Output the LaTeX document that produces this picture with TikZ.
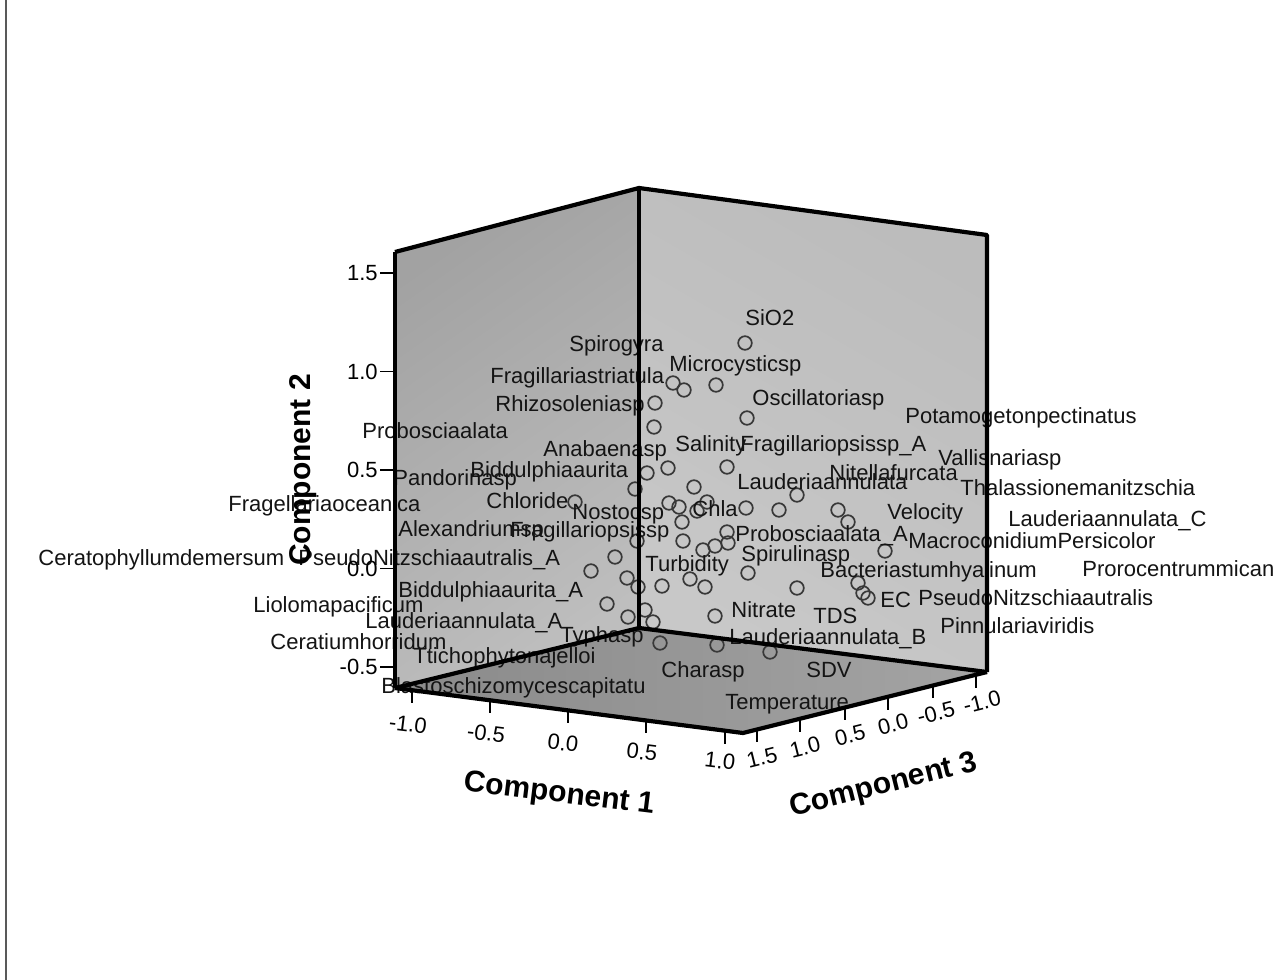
\documentclass[tikz,border=0pt]{standalone}
\usepackage{fontspec}
\setmainfont{Liberation Sans}
\usepackage{tikz}
\usetikzlibrary{calc}
\definecolor{leftwallA}{HTML}{A2A2A2}
\definecolor{leftwallB}{HTML}{BEBEBE}
\definecolor{rightwallA}{HTML}{BCBCBC}
\definecolor{rightwallB}{HTML}{C8C8C8}
\definecolor{floorA}{HTML}{8A8A8A}
\definecolor{floorB}{HTML}{A4A4A4}
\tikzset{
  frameline/.style={line width=2.1pt, line join=round},
  obs/.style={circle, draw=black!78, line width=0.85pt, minimum size=6.8pt, inner sep=0pt},
  lab/.style={anchor=base west, inner sep=0pt, text=black!92, font=\fontsize{11}{13}\selectfont},
  ticklab/.style={inner sep=0pt, font=\fontsize{11}{13}\selectfont},
  axtitle/.style={inner sep=0pt, font=\bfseries\fontsize{15}{17}\selectfont}
}

\begin{document}
\begin{tikzpicture}[x=0.5pt,y=-0.5pt]
\useasboundingbox[fill=white] (0,0) rectangle (1276,980);
\draw[black!65, line width=1pt] (6,0) -- (6,980);

\coordinate (lt) at (395,252);
\coordinate (bt) at (639,188);
\coordinate (rt) at (987,235);
\coordinate (lb) at (395,688);
\coordinate (bb) at (639,628);
\coordinate (rb) at (987,672);
\coordinate (fb) at (743,733);

\shade[top color=leftwallA, bottom color=leftwallB, shading angle=35] (lt) -- (bt) -- (bb) -- (lb) -- cycle;
\shade[top color=rightwallA, bottom color=rightwallB, shading angle=-30] (bt) -- (rt) -- (rb) -- (bb) -- cycle;
\shade[left color=floorA, right color=floorB] (lb) -- (bb) -- (rb) -- (fb) -- cycle;

\node[obs] (p1) at (745,343) {};
\node[obs] (p2) at (673,383) {};
\node[obs] (p3) at (684,390) {};
\node[obs] (p4) at (716,385) {};
\node[obs] (p5) at (655,403) {};
\node[obs] (p6) at (654,427) {};
\node[obs] (p7) at (747,418) {};
\node[obs] (p8) at (668,468) {};
\node[obs] (p9) at (727,467) {};
\node[obs] (p10) at (647,473) {};
\node[obs] (p11) at (635,489) {};
\node[obs] (p12) at (694,487) {};
\node[obs] (p13) at (797,495) {};
\node[obs] (p14) at (575,502) {};
\node[obs] (p15) at (669,503) {};
\node[obs] (p16) at (679,507) {};
\node[obs] (p17) at (707,502) {};
\node[obs] (p18) at (697,511) {};
\node[obs] (p19) at (746,508) {};
\node[obs] (p20) at (779,510) {};
\node[obs] (p21) at (838,510) {};
\node[obs] (p22) at (848,522) {};
\node[obs] (p23) at (682,522) {};
\node[obs] (p24) at (727,532) {};
\node[obs] (p25) at (637,541) {};
\node[obs] (p26) at (683,541) {};
\node[obs] (p27) at (728,543) {};
\node[obs] (p28) at (715,546) {};
\node[obs] (p29) at (703,550) {};
\node[obs] (p30) at (885,551) {};
\node[obs] (p31) at (615,557) {};
\node[obs] (p32) at (591,571) {};
\node[obs] (p33) at (748,573) {};
\node[obs] (p34) at (627,578) {};
\node[obs] (p35) at (690,579) {};
\node[obs] (p36) at (638,587) {};
\node[obs] (p37) at (662,586) {};
\node[obs] (p38) at (705,587) {};
\node[obs] (p39) at (797,588) {};
\node[obs] (p40) at (858,583) {};
\node[obs] (p41) at (863,593) {};
\node[obs] (p42) at (868,598) {};
\node[obs] (p43) at (607,604) {};
\node[obs] (p44) at (645,610) {};
\node[obs] (p45) at (715,616) {};
\node[obs] (p46) at (628,617) {};
\node[obs] (p47) at (653,622) {};
\node[obs] (p48) at (660,643) {};
\node[obs] (p49) at (717,645) {};
\node[obs] (p50) at (770,652) {};

\node[lab] (t1) at (745,325) {SiO2};
\node[lab] (t2) at (569,351) {Spirogyra};
\node[lab] (t3) at (669,371) {Microcysticsp};
\node[lab] (t4) at (490,383) {Fragillariastriatula};
\node[lab] (t5) at (752,405) {Oscillatoriasp};
\node[lab] (t6) at (495,411) {Rhizosoleniasp};
\node[lab] (t7) at (905,423) {Potamogetonpectinatus};
\node[lab] (t8) at (362,438) {Probosciaalata};
\node[lab] (t9) at (543,456) {Anabaenasp};
\node[lab] (t10) at (675,451) {Salinity};
\node[lab] (t11) at (740,451) {Fragillariopsissp\_A};
\node[lab] (t12) at (938,465) {Vallisnariasp};
\node[lab] (t13) at (470,477) {Biddulphiaaurita};
\node[lab] (t14) at (393,485) {Pandorinasp};
\node[lab] (t15) at (737,489) {Lauderiaannulata};
\node[lab] (t16) at (829,480) {Nitellafurcata};
\node[lab] (t17) at (960,495) {Thalassionemanitzschia};
\node[lab] (t18) at (228,511) {Fragellariaoceanica};
\node[lab] (t19) at (486,508) {Chloride};
\node[lab] (t20) at (572,519) {Nostocsp};
\node[lab] (t21) at (692,516) {Chla};
\node[lab] (t22) at (887,519) {Velocity};
\node[lab] (t23) at (1008,526) {Lauderiaannulata\_C};
\node[lab] (t24) at (398,536) {Alexandriumsp};
\node[lab] (t25) at (510,537) {Fragillariopsissp};
\node[lab] (t26) at (735,541) {Probosciaalata\_A};
\node[lab] (t27) at (908,548) {MacroconidiumPersicolor};
\node[lab] (t28) at (38,565) {Ceratophyllumdemersum};
\node[lab] (t29) at (298,565) {PseudoNitzschiaautralis\_A};
\node[lab] (t30) at (645,571) {Turbidity};
\node[lab] (t31) at (741,561) {Spirulinasp};
\node[lab] (t32) at (820,577) {Bacteriastumhyalinum};
\node[lab] (t33) at (1082,576) {Prorocentrummican};
\node[lab] (t34) at (398,597) {Biddulphiaaurita\_A};
\node[lab] (t35) at (880,607) {EC};
\node[lab] (t36) at (918,605) {PseudoNitzschiaautralis};
\node[lab] (t37) at (253,612) {Liolomapacificum};
\node[lab] (t38) at (731,617) {Nitrate};
\node[lab] (t39) at (813,623) {TDS};
\node[lab] (t40) at (365,628) {Lauderiaannulata\_A};
\node[lab] (t41) at (940,633) {Pinnulariaviridis};
\node[lab] (t42) at (729,644) {Lauderiaannulata\_B};
\node[lab] (t43) at (560,642) {Typhasp};
\node[lab] (t44) at (270,649) {Ceratiumhorridum};
\node[lab] (t45) at (413,663) {Ttichophytonajelloi};
\node[lab] (t46) at (661,677) {Charasp};
\node[lab] (t47) at (806,677) {SDV};
\node[lab] (t48) at (381,693) {Blastoschizomycescapitatu};
\node[lab] (t49) at (725,709) {Temperature};

\draw[frameline] (lt) -- (lb);
\draw[frameline] (lt) -- (bt) -- (rt) -- (rb);
\draw[frameline] (bt) -- (bb);
\draw[frameline] (lb) -- (bb) -- (rb);
\draw[frameline] (lb) -- (fb) -- (rb);

\draw[line width=0.7pt] (380,273) -- (395,273);
\draw[line width=0.7pt] (380,371.5) -- (395,371.5);
\draw[line width=0.7pt] (380,470) -- (395,470);
\draw[line width=0.7pt] (380,568.5) -- (395,568.5);
\draw[line width=0.7pt] (380,667) -- (395,667);
\node[ticklab, anchor=east] (y1) at (378,273) {1.5};
\node[ticklab, anchor=east] (y2) at (378,371.5) {1.0};
\node[ticklab, anchor=east] (y3) at (378,470) {0.5};
\node[ticklab, anchor=east] (y4) at (378,568.5) {0.0};
\node[ticklab, anchor=east] (y5) at (378,667) {-0.5};

\draw[line width=0.7pt] (412,690) -- (412,703);
\draw[line width=0.7pt] (490,700) -- (490,713);
\draw[line width=0.7pt] (568,710) -- (568,723);
\draw[line width=0.7pt] (646,720) -- (646,733);
\draw[line width=0.7pt] (725,731) -- (725,744);
\node[ticklab, rotate=-7] (x1) at (408,724) {-1.0};
\node[ticklab, rotate=-7] (x2) at (486,733) {-0.5};
\node[ticklab, rotate=-7] (x3) at (563,743) {0.0};
\node[ticklab, rotate=-7] (x4) at (642,752) {0.5};
\node[ticklab, rotate=-7] (x5) at (720,761) {1.0};

\draw[line width=0.7pt] (757,729) -- (757,742);
\draw[line width=0.7pt] (800,719) -- (800,732);
\draw[line width=0.7pt] (845,707) -- (845,720);
\draw[line width=0.7pt] (888,697) -- (888,710);
\draw[line width=0.7pt] (933,685) -- (933,698);
\draw[line width=0.7pt] (976,675) -- (976,688);
\node[ticklab, rotate=14] (z1) at (762,758) {1.5};
\node[ticklab, rotate=14] (z2) at (805,747) {1.0};
\node[ticklab, rotate=14] (z3) at (850,735) {0.5};
\node[ticklab, rotate=14] (z4) at (893,724) {0.0};
\node[ticklab, rotate=14] (z5) at (936,713) {-0.5};
\node[ticklab, rotate=14] (z6) at (982,702) {-1.0};

\node[axtitle, rotate=90] (c2) at (303,470) {Component 2};
\node[axtitle, rotate=-7] (c1) at (559,795) {Component 1};
\node[axtitle, rotate=14] (c3) at (884,786) {Component 3};
\end{tikzpicture}
\end{document}
